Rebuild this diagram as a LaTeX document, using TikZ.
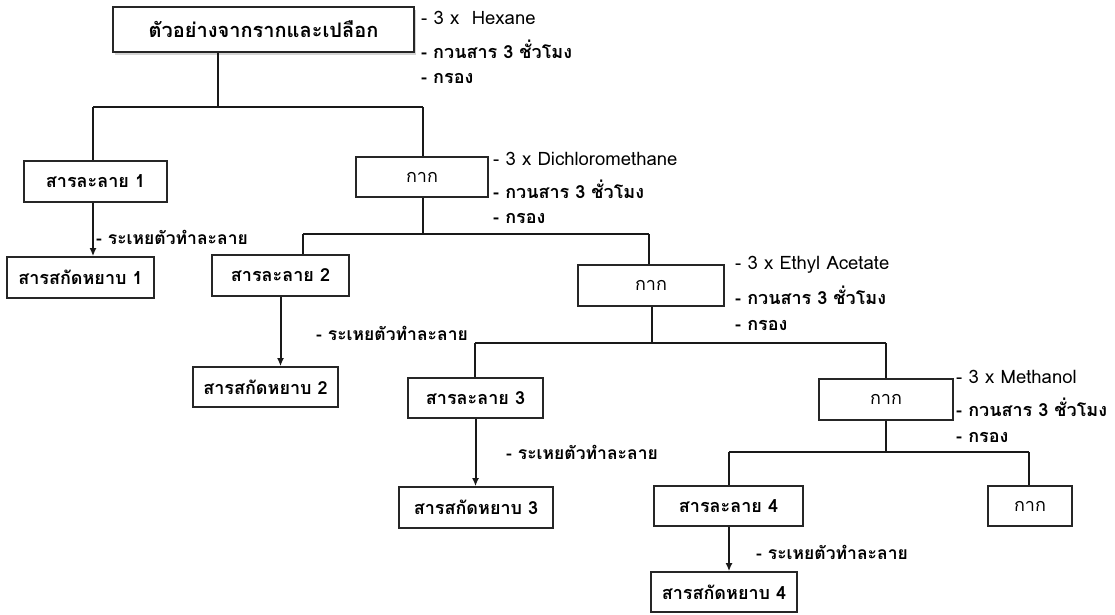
\documentclass[tikz,border=0pt]{standalone}
\usepackage{fontspec}
\setmainfont[Script=Thai]{Loma}
\usetikzlibrary{arrows.meta,shadows}
\begin{document}
\begin{tikzpicture}[x=1pt,y=-1pt,
  box/.style={draw=black!85, line width=1.7pt, fill=white, inner sep=0pt,
    font=\fontsize{18}{20}\selectfont\bfseries},
  kbox/.style={box, font=\fontsize{18}{20}\selectfont},
  topbox/.style={box, line width=2.6pt, font=\fontsize{20}{22}\selectfont\bfseries,
    drop shadow={opacity=0.35, shadow xshift=2pt, shadow yshift=-2.5pt}},
  lbl/.style={anchor=west, inner sep=0pt, font=\fontsize{18.5}{20}\selectfont},
  tlbl/.style={lbl, font=\fontsize{18}{20}\selectfont\bfseries},
  rlbl/.style={lbl, font=\fontsize{17.5}{20}\selectfont\bfseries},
  ln/.style={draw=black!90, line width=2pt},
  arr/.style={ln, -{Latex[length=8pt,width=7pt]}}]
\useasboundingbox (0,0) rectangle (1115,614);

% boxes
\node[topbox, minimum width=301pt, minimum height=45pt] (T) at (263.5,29.5) {ตัวอย่างจากรากและเปลือก};
\node[box, minimum width=143pt, minimum height=41pt] (S1) at (95.5,181.5) {สารละลาย 1};
\node[box, minimum width=147pt, minimum height=41pt] (E1) at (80.5,277.5) {สารสกัดหยาบ 1};
\node[kbox, minimum width=132pt, minimum height=40pt] (K1) at (422,177) {กาก};
\node[box, minimum width=137pt, minimum height=41pt] (S2) at (280.5,275.5) {สารละลาย 2};
\node[box, minimum width=145pt, minimum height=40pt] (E2) at (265.5,387) {สารสกัดหยาบ 2};
\node[kbox, minimum width=146pt, minimum height=41pt] (K2) at (651,285.5) {กาก};
\node[box, minimum width=135pt, minimum height=40pt] (S3) at (475.5,398) {สารละลาย 3};
\node[box, minimum width=154pt, minimum height=41pt] (E3) at (476,507.5) {สารสกัดหยาบ 3};
\node[kbox, minimum width=134pt, minimum height=41pt] (K3) at (886,399.5) {กาก};
\node[box, minimum width=149pt, minimum height=40pt] (S4) at (728.5,506) {สารละลาย 4};
\node[box, minimum width=146pt, minimum height=40pt] (E4) at (724,592) {สารสกัดหยาบ 4};
\node[kbox, minimum width=84pt, minimum height=40pt] (K4) at (1030,506) {กาก};

% junction points
\coordinate (a0) at (218,107); \coordinate (a1) at (93,107); \coordinate (a2) at (423,107);
\coordinate (b0) at (423,234); \coordinate (b1) at (303,234); \coordinate (b2) at (649,234);
\coordinate (c0) at (652,343); \coordinate (c1) at (475,343); \coordinate (c2) at (886,343);
\coordinate (d0) at (886,452); \coordinate (d1) at (729,452); \coordinate (d2) at (1029,452);

% level 1
\draw[ln] (T.south -| a0) -- (a0);
\draw[ln] (a1) -- (a2);
\draw[ln] (a1) -- (S1.north -| a1);
\draw[ln] (a2) -- (K1.north -| a2);
\draw[arr] (S1.south -| a1) -- (E1.north -| a1);
% level 2
\draw[ln] (K1.south -| b0) -- (b0);
\draw[ln] (b1) -- (b2);
\draw[ln] (b1) -- (S2.north -| b1);
\draw[ln] (b2) -- (K2.north -| b2);
\draw[arr] (S2.south) -- (E2.north -| S2.south);
% level 3
\draw[ln] (K2.south -| c0) -- (c0);
\draw[ln] (c1) -- (c2);
\draw[ln] (c1) -- (S3.north -| c1);
\draw[ln] (c2) -- (K3.north -| c2);
\draw[arr] (S3.south) -- (E3.north -| S3.south);
% level 4
\draw[ln] (K3.south -| d0) -- (d0);
\draw[ln] (d1) -- (d2);
\draw[ln] (d1) -- (S4.north -| d1);
\draw[ln] (d2) -- (K4.north -| d2);
\draw[arr] (S4.south -| d1) -- (E4.north -| d1);

% annotations
\node[lbl]  (h1) at (421,18) {- 3 x~~Hexane};
\node[tlbl] (h2) at (421,49) {- กวนสาร 3 ชั่วโมง};
\node[tlbl] (h3) at (421,78) {- กรอง};

\node[lbl]  (m1) at (493,159) {- 3 x Dichloromethane};
\node[tlbl] (m2) at (493,189) {- กวนสาร 3 ชั่วโมง};
\node[tlbl] (m3) at (493,218) {- กรอง};

\node[lbl]  (e1) at (735,265) {- 3 x Ethyl Acetate};
\node[tlbl] (e2) at (735,295) {- กวนสาร 3 ชั่วโมง};
\node[tlbl] (e3) at (735,325) {- กรอง};

\node[lbl]  (n1) at (956,377) {- 3 x Methanol};
\node[tlbl] (n2) at (956,407) {- กวนสาร 3 ชั่วโมง};
\node[tlbl] (n3) at (956,437) {- กรอง};

\node[rlbl] (r1) at (96,237) {- ระเหยตัวทำละลาย};
\node[rlbl] (r2) at (316,333) {- ระเหยตัวทำละลาย};
\node[rlbl] (r3) at (506,452) {- ระเหยตัวทำละลาย};
\node[rlbl] (r4) at (756,552) {- ระเหยตัวทำละลาย};
\end{tikzpicture}
\end{document}
